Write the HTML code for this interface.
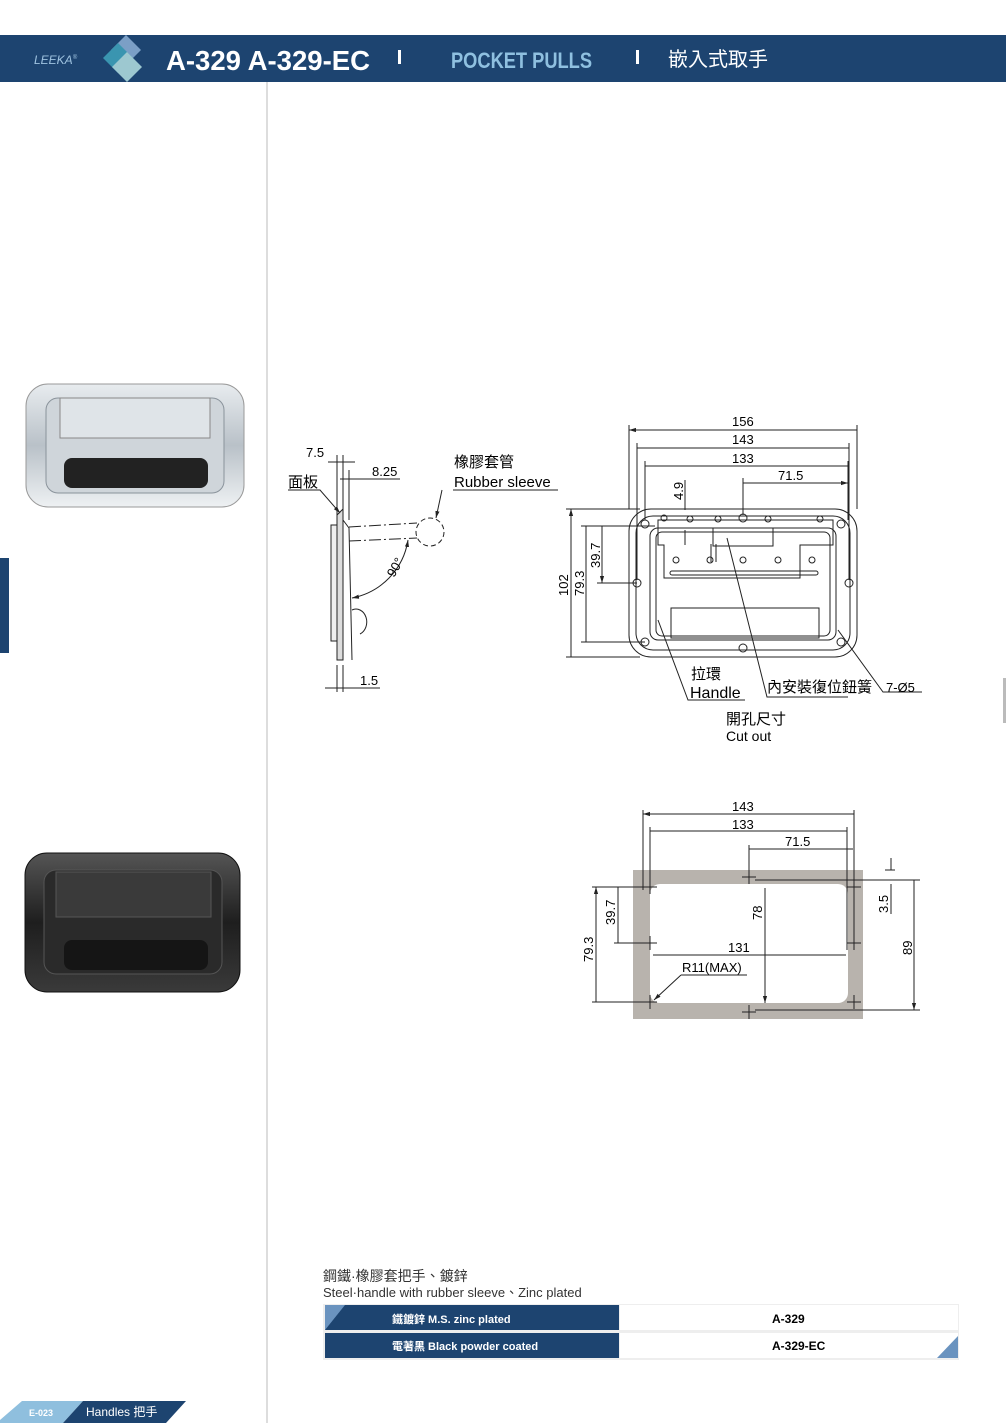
<!DOCTYPE html>
<html><head><meta charset="utf-8"><style>
body{margin:0;background:#fff}
svg{display:block}
text{font-family:"Liberation Sans","Noto Sans CJK TC",sans-serif}
</style></head><body>
<svg width="1006" height="1423" viewBox="0 0 1006 1423" xmlns="http://www.w3.org/2000/svg">
<defs>
<marker id="a" viewBox="0 0 10 10" refX="10" refY="5" markerWidth="7" markerHeight="7" orient="auto-start-reverse"><path d="M0,2 L10,5 L0,8z" fill="#222"/></marker>
<linearGradient id="sil" x1="0" y1="0" x2="0" y2="1"><stop offset="0" stop-color="#e8ecef"/><stop offset=".5" stop-color="#b9c1c8"/><stop offset="1" stop-color="#eef1f3"/></linearGradient>
<linearGradient id="blk" x1="0" y1="0" x2="0" y2="1"><stop offset="0" stop-color="#555"/><stop offset=".5" stop-color="#1e1e1e"/><stop offset="1" stop-color="#3a3a3a"/></linearGradient>
</defs>
<rect x="0" y="35" width="1006" height="47" fill="#1d4470"/>
<text x="34" y="64" font-size="12" font-style="italic" fill="#9fc3e0">LEEKA<tspan font-size="6" dy="-5">®</tspan></text>
<path d="M126,35 L141,50 L126,65 L111,50z" fill="#7b9fc6"/>
<path d="M118,43 L133,58 L118,73 L103,58z" fill="#3a95b0"/>
<path d="M127,52 L142,67 L127,82 L112,67z" fill="#9dc8d0"/>
<text x="166" y="70" font-size="28" font-weight="bold" fill="#fff" textLength="204" lengthAdjust="spacingAndGlyphs">A-329 A-329-EC</text>
<rect x="398" y="50" width="3" height="14" fill="#fff"/>
<text x="451" y="68" font-size="22" font-weight="bold" fill="#8fc0e0" textLength="141" lengthAdjust="spacingAndGlyphs">POCKET PULLS</text>
<rect x="636" y="50" width="3" height="14" fill="#fff"/>
<text x="668" y="66" font-size="20" fill="#fff">嵌入式取手</text>
<rect x="266" y="82" width="2" height="1341" fill="#ddd"/>
<rect x="0" y="558" width="9" height="95" fill="#1d4470"/>
<rect x="1003" y="678" width="3" height="45" fill="#bbb"/>
<rect x="26" y="384" width="218" height="123" rx="22" fill="url(#sil)" stroke="#999"/>
<rect x="46" y="398" width="178" height="95" rx="12" fill="#cfd5da" stroke="#8a939b"/>
<rect x="60" y="398" width="150" height="40" fill="#dfe4e8" stroke="#888"/>
<rect x="64" y="458" width="144" height="30" rx="8" fill="#222"/>
<rect x="25" y="853" width="215" height="139" rx="22" fill="url(#blk)" stroke="#111"/>
<rect x="44" y="870" width="178" height="104" rx="12" fill="#2a2a2a" stroke="#555"/>
<rect x="56" y="872" width="155" height="45" fill="#3a3a3a" stroke="#555"/>
<rect x="64" y="940" width="144" height="30" rx="8" fill="#151515"/>
<g stroke="#222" fill="none" stroke-width="1">
<rect x="331" y="525" width="6" height="116" fill="#eee"/>
<path d="M337,515 L343,509 L343,660 L337,660z" fill="#ddd"/>
<path d="M343,520 L349,528 L352,660" />
<circle cx="430" cy="532" r="14" stroke-dasharray="5,3"/>
<path d="M349,527 L417,523 M349,541 L417,538" stroke-dasharray="12,3,2,3"/>
<path d="M352,610 a10,12 0 0 1 8,24" fill="#fff"/>
<path d="M408,540 A70,70 0 0 1 352,598" marker-start="url(#a)" marker-end="url(#a)"/>
<path d="M328,462 L355,462 M343,455 L343,515 M337,455 L337,515" />
<path d="M340,479 L400,479 M349,470 L349,520"/>
<path d="M288,490 L320,490 L340,513" marker-end="url(#a)"/>
<path d="M325,688 L380,688 M337,665 L337,692 M343,665 L343,692"/>
<path d="M453,490 L558,490 M442,490 L436,518" marker-end="url(#a)"/>
</g>
<text x="306" y="457" font-size="13">7.5</text>
<text x="372" y="476" font-size="13">8.25</text>
<text x="288" y="487" font-size="15">面板</text>
<text x="454" y="467" font-size="15">橡膠套管</text>
<text x="454" y="487" font-size="15">Rubber sleeve</text>
<text x="360" y="685" font-size="13">1.5</text>
<text x="0" y="0" font-size="13" transform="translate(394,578) rotate(-60)">90°</text>
<g stroke="#222" fill="none" stroke-width="1">
<rect x="629" y="509" width="228" height="148" rx="22"/>
<rect x="636" y="516" width="214" height="134" rx="17"/>
<rect x="650" y="528" width="186" height="112" rx="8"/>
<rect x="656" y="532" width="174" height="104" rx="6"/>
<path d="M658,520 L833,520 L833,545 L800,545 L800,578 L664,578 L664,545 L658,545z"/>
<rect x="670" y="571" width="148" height="4" rx="2"/>
<rect x="671" y="608" width="148" height="30"/>
<rect x="713" y="528" width="60" height="18"/>
<path d="M711,544 v18 M716,544 v18"/>
<g>
<circle cx="676" cy="560" r="3"/><circle cx="710" cy="560" r="3"/><circle cx="743" cy="560" r="3"/><circle cx="778" cy="560" r="3"/><circle cx="812" cy="560" r="3"/>
<circle cx="664" cy="518" r="3"/><circle cx="690" cy="519" r="3"/><circle cx="718" cy="519" r="3"/><circle cx="768" cy="519" r="3"/><circle cx="820" cy="519" r="3"/>
<circle cx="645" cy="524" r="4"/><circle cx="743" cy="518" r="4"/><circle cx="841" cy="524" r="4"/><circle cx="637" cy="583" r="4"/><circle cx="849" cy="583" r="4"/><circle cx="645" cy="642" r="4"/><circle cx="841" cy="642" r="4"/><circle cx="743" cy="648" r="4"/>
</g>
<path d="M629,425 V509 M857,425 V509 M637,443 V580 M849,443 V580 M645,461 V520 M848,461 V520 M743,478 V515"/>
<path d="M629,430 H857 M637,448 H849 M645,466 H848 M743,483 H848" marker-start="url(#a)" marker-end="url(#a)"/>
<path d="M566,509 H640 M581,526 H655 M581,642 H645 M566,657 H640 M597,583 H637"/>
<path d="M571,509 V657 M586,526 V642 M602,526 V583" marker-start="url(#a)" marker-end="url(#a)"/>
<path d="M685,480 V510 M685,545 V530"/>
<path d="M658,620 L688,700 H745 M727,538 L767,697 H848 M838,630 L883,692 H922"/>
</g>
<text x="732" y="426" font-size="13">156</text>
<text x="732" y="444" font-size="13">143</text>
<text x="732" y="463" font-size="13">133</text>
<text x="778" y="480" font-size="13">71.5</text>
<text font-size="13" transform="translate(568,596) rotate(-90)">102</text>
<text font-size="13" transform="translate(584,596) rotate(-90)">79.3</text>
<text font-size="13" transform="translate(600,568) rotate(-90)">39.7</text>
<text font-size="13" transform="translate(683,500) rotate(-90)">4.9</text>
<text x="691" y="679" font-size="15">拉環</text>
<text x="690" y="698" font-size="16">Handle</text>
<text x="767" y="692" font-size="15">內安裝復位鈕簧</text>
<text x="886" y="692" font-size="13">7-Ø5</text>
<text x="726" y="724" font-size="15">開孔尺寸</text>
<text x="726" y="741" font-size="14">Cut out</text>
<rect x="633" y="870" width="230" height="149" fill="#b8b3ad"/>
<rect x="650" y="884" width="198" height="119" rx="10" fill="#fff"/>
<g stroke="#222" fill="none">
<path d="M643,810 V890 M854,810 V950 M650,827 V890 M847,827 V950 M749,845 V880"/>
<path d="M643,814 H854 M650,831 H847 M749,849 H853 M653,955 H846 M765,888 V1003" marker-start="url(#a)" marker-end="url(#a)"/>
<path d="M592,887 H650 M614,943 H650 M592,1002 H650 M755,880 H920 M755,1010 H920 M885,870 H895"/>
<path d="M596,887 V1002 M618,887 V943 M914,880 V1010" marker-start="url(#a)" marker-end="url(#a)"/>
<path d="M891,858 V870 M891,884 V914"/>
<path d="M681,975 H747 M681,975 L654,1000" marker-end="url(#a)"/>
<g stroke-width="1"><path d="M643,887 h14 M650,880 v14 M847,887 h14 M854,880 v14 M643,943 h14 M650,936 v14 M847,943 h14 M854,936 v14 M643,1002 h14 M650,995 v14 M847,1002 h14 M854,995 v14 M742,877 h14 M749,870 v14 M742,1012 h14 M749,1005 v14"/></g>
</g>
<text x="732" y="811" font-size="13">143</text>
<text x="732" y="829" font-size="13">133</text>
<text x="785" y="846" font-size="13">71.5</text>
<text x="728" y="952" font-size="13">131</text>
<text x="682" y="972" font-size="13">R11(MAX)</text>
<text font-size="13" transform="translate(762,920) rotate(-90)">78</text>
<text font-size="13" transform="translate(593,962) rotate(-90)">79.3</text>
<text font-size="13" transform="translate(615,925) rotate(-90)">39.7</text>
<text font-size="13" transform="translate(888,913) rotate(-90)">3.5</text>
<text font-size="13" transform="translate(912,955) rotate(-90)">89</text>
<text x="323" y="1281" font-size="14" fill="#333">鋼鐵·橡膠套把手、鍍鋅</text>
<text x="323" y="1297" font-size="13" fill="#333">Steel·handle with rubber sleeve、Zinc plated</text>
<rect x="323" y="1304" width="636" height="56" fill="#eee"/>
<rect x="325" y="1305" width="294" height="25" fill="#1d4470"/>
<rect x="325" y="1333" width="294" height="25" fill="#1d4470"/>
<rect x="620" y="1305" width="338" height="25" fill="#fff"/>
<rect x="620" y="1333" width="338" height="25" fill="#fff"/>
<path d="M325,1305 L345,1305 L325,1330z" fill="#6a93bf"/>
<path d="M958,1336 L958,1358 L937,1358z" fill="#6a93bf"/>
<text x="392" y="1323" font-size="11" font-weight="bold" fill="#fff">鐵鍍鋅 M.S. zinc plated</text>
<text x="392" y="1350" font-size="11" font-weight="bold" fill="#fff">電著黑 Black powder coated</text>
<text x="772" y="1323" font-size="12" font-weight="bold">A-329</text>
<text x="772" y="1350" font-size="12" font-weight="bold">A-329-EC</text>
<path d="M22,1401 L83,1401 L63,1423 L0,1423 L0,1420z" fill="#8fbfde"/>
<path d="M83,1401 L186,1401 L166,1423 L63,1423z" fill="#1d4470"/>
<text x="29" y="1416" font-size="9" font-weight="bold" fill="#fff">E-023</text>
<text x="86" y="1416" font-size="12" fill="#fff">Handles 把手</text>
</svg>
</body></html>
